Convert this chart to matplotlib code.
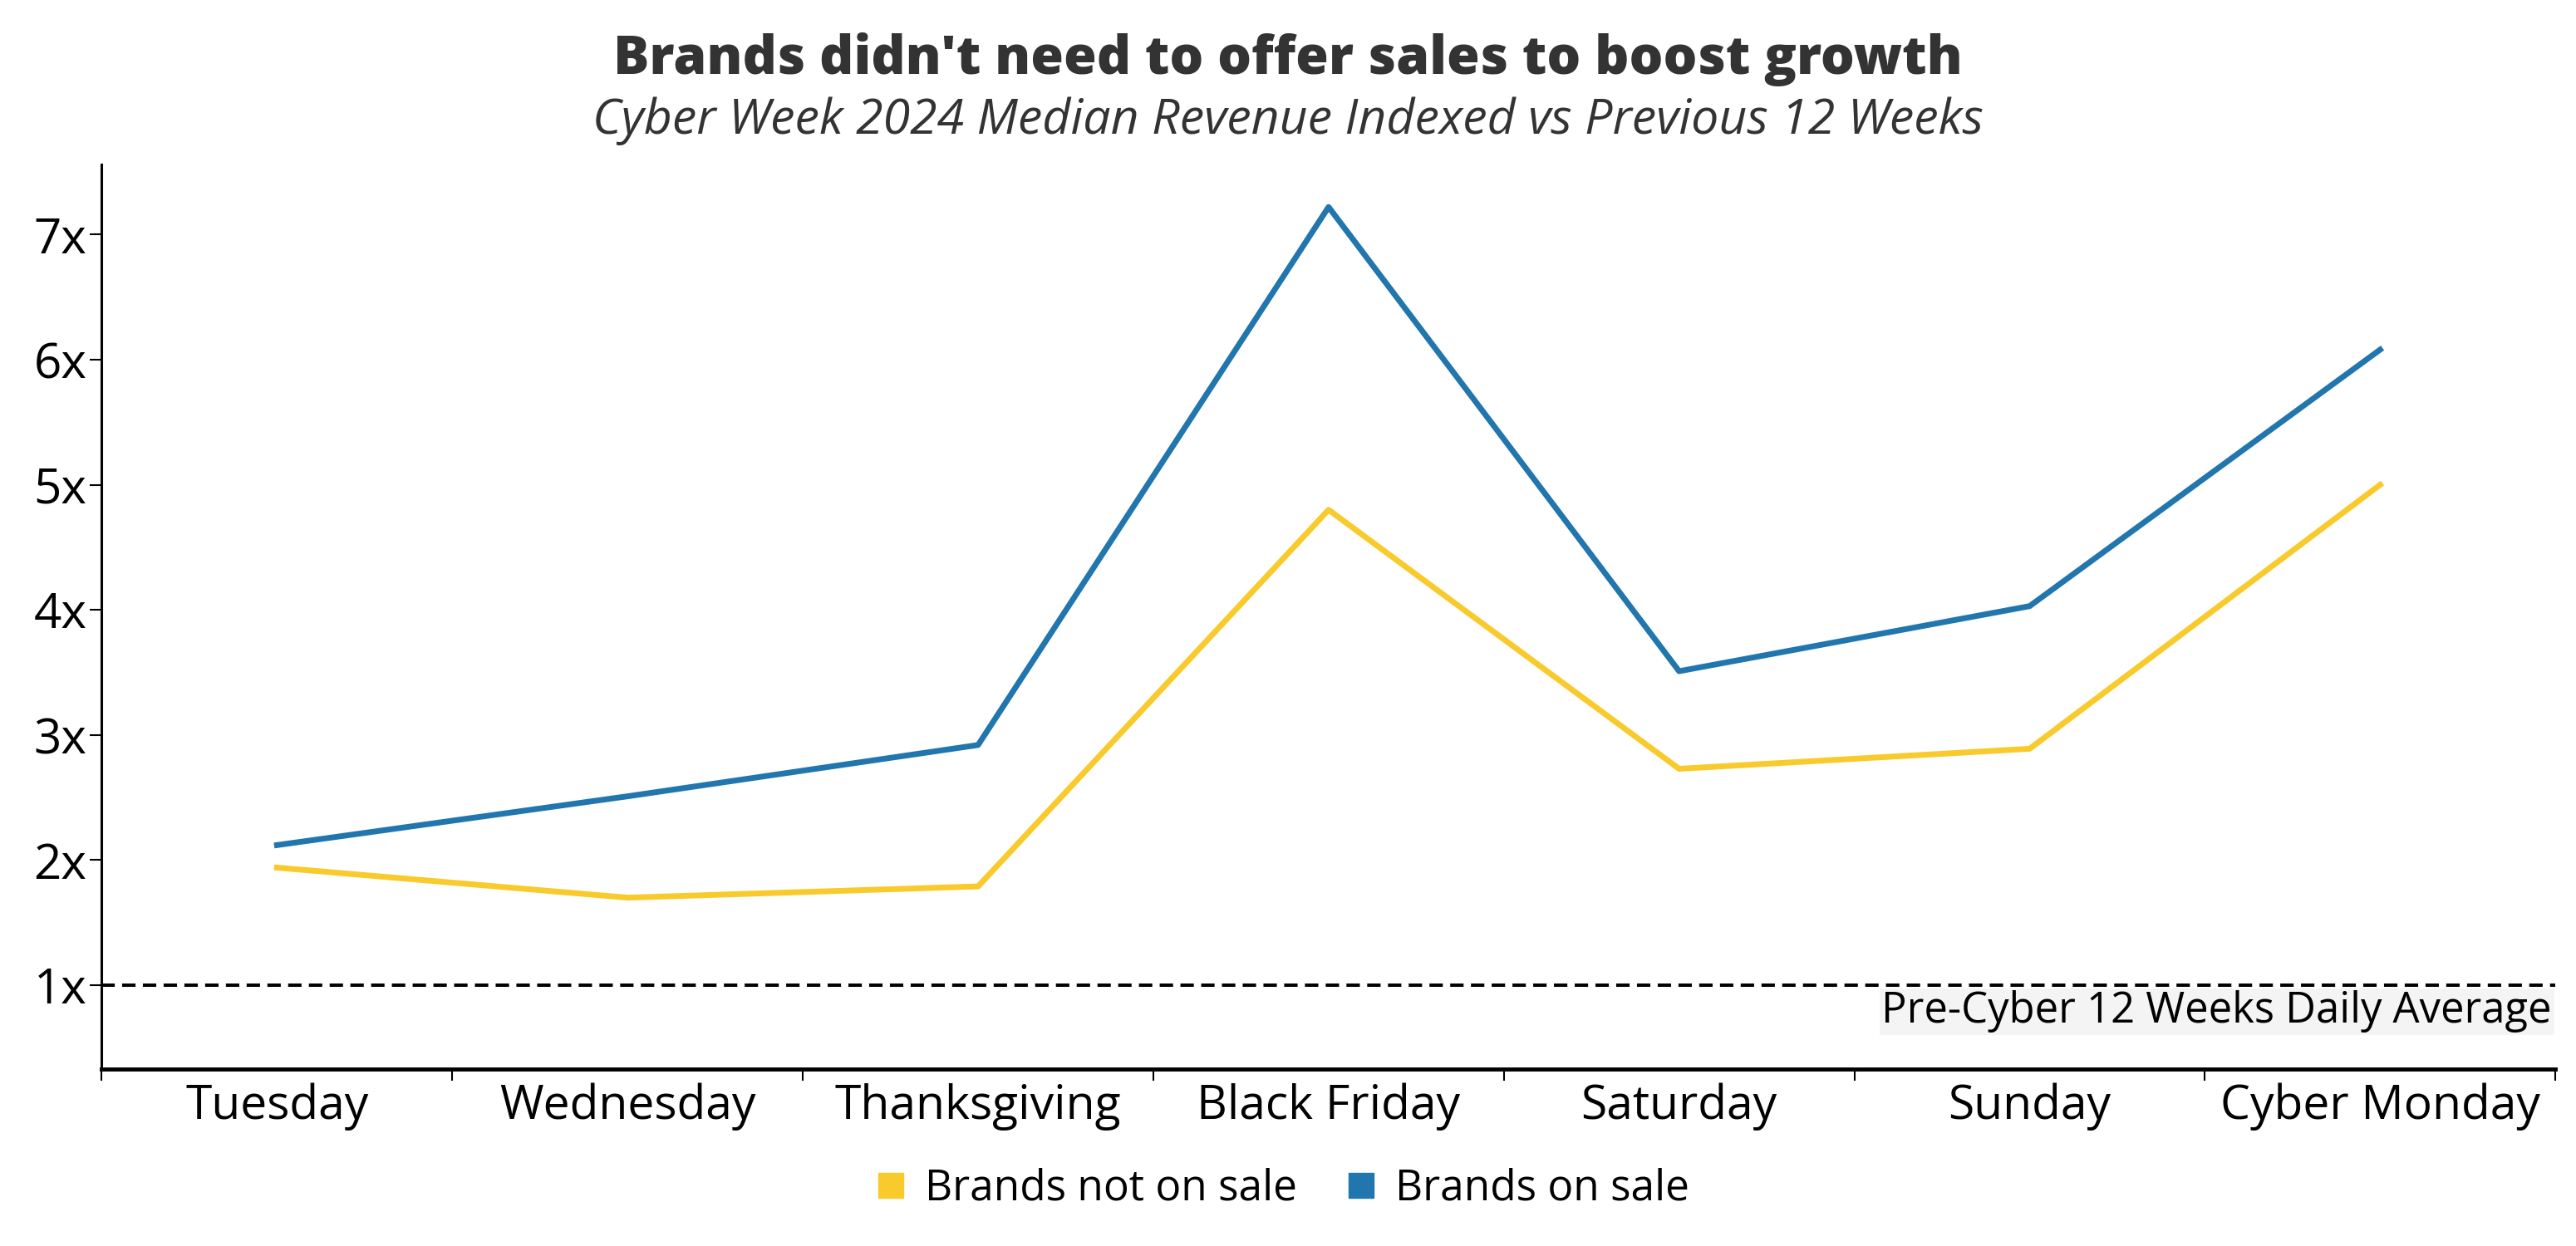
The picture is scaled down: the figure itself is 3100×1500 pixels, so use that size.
import matplotlib
matplotlib.use("Agg")
import matplotlib.pyplot as plt
from matplotlib.ticker import FixedLocator
from matplotlib.lines import Line2D

plt.rcParams['font.family'] = ['Open Sans', 'DejaVu Sans']

# data
days = ['Tuesday', 'Wednesday', 'Thanksgiving', 'Black Friday', 'Saturday', 'Sunday', 'Cyber Monday']
not_on_sale = [1.94, 1.70, 1.79, 4.80, 2.73, 2.89, 5.00]
on_sale = [2.12, 2.51, 2.92, 7.22, 3.51, 4.03, 6.08]
yticks = [1, 2, 3, 4, 5, 6, 7]
ytick_labels = ['1x', '2x', '3x', '4x', '5x', '6x', '7x']
series_names = ['Brands not on sale', 'Brands on sale']

yellow = '#F9CA2B'
blue = '#2176AE'

fig = plt.figure(figsize=(31, 15), dpi=100)
ax = fig.add_axes([0.0395, 0.142, 0.9525, 0.726])

x = range(len(days))
ax.plot(x, not_on_sale, color=yellow, lw=5)
ax.plot(x, on_sale, color=blue, lw=5)

# baseline at 1x
ax.axhline(1, color='black', lw=2.9, ls=(0, (4, 2.2)))
ax.text(6.49, 0.79, 'Pre-Cyber 12 Weeks Daily Average', ha='right', va='center',
        fontsize=36.5, color='black',
        bbox=dict(facecolor='#f4f4f4', edgecolor='none', pad=2))

ax.set_xlim(-0.5, 6.5)
ax.set_ylim(0.33, 7.56)
ax.set_xticks(list(x))
ax.set_xticklabels(days, fontsize=41)
ax.xaxis.set_minor_locator(FixedLocator([i - 0.5 for i in range(len(days) + 1)]))
ax.tick_params(axis='x', which='major', length=0, pad=12)
ax.tick_params(axis='x', which='minor', length=10, width=1.5)
ax.set_yticks(yticks)
ax.set_yticklabels(ytick_labels, fontsize=42)
ax.tick_params(axis='y', length=10, width=1.5, pad=3)

for s in ['top', 'right']:
    ax.spines[s].set_visible(False)
ax.spines['left'].set_linewidth(2.2)
ax.spines['bottom'].set_linewidth(3.5)

fig.text(0.5, 0.952, "Brands didn't need to offer sales to boost growth", ha='center', va='center',
         fontsize=46.3, fontweight=800, color='#333333')
fig.text(0.5, 0.903, 'Cyber Week 2024 Median Revenue Indexed vs Previous 12 Weeks', ha='center', va='center',
         fontsize=42.5, style='italic', color='#333333')

# square legend markers
handles = [Line2D([], [], marker='s', ls='none', color=c, markersize=22) for c in [yellow, blue]]
fig.legend(handles, series_names, loc='center', bbox_to_anchor=(0.4975, 0.046),
           ncol=2, frameon=False, fontsize=37, handlelength=0.8, handletextpad=0.4, columnspacing=1.1)

fig.savefig('out.png', dpi=100, facecolor='white')
